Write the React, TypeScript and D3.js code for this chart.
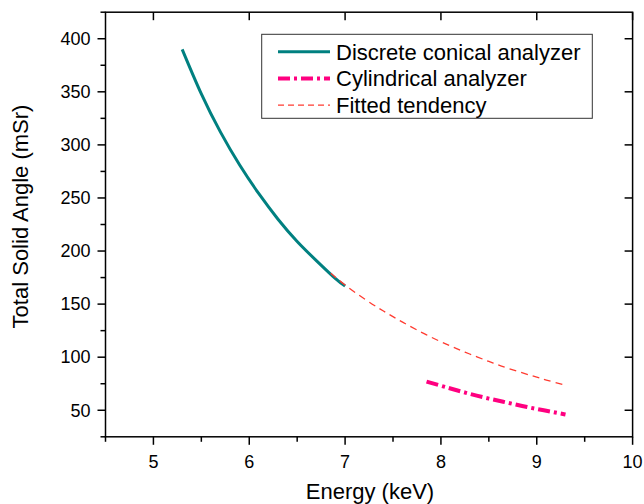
import React from "react";
import * as d3 from "d3";

const conicalEnergy = [5.3, 5.5, 5.7, 5.9, 6.1, 6.3, 6.5, 6.7, 6.9, 7.0];
const conicalAngle = [390, 348, 312, 281, 254, 230, 209, 191, 174, 167];

const cylEnergy = [7.85, 8.1, 8.3, 8.5, 8.7, 8.9, 9.1, 9.3];
const cylAngle = [77, 70.5, 65.5, 61, 57, 53, 49.5, 46];

const fitEnergy = [6.85, 7.0, 7.2, 7.4, 7.6, 7.85, 8.1, 8.3, 8.5, 8.7, 8.95, 9.1, 9.3];
const fitAngle = [179, 168, 155, 143.5, 133, 121, 110.5, 103, 96, 89.5, 82.5, 78.5, 73.5];

const xTicks = [5, 6, 7, 8, 9, 10];
const xMinorTicks = [4.5, 5.5, 6.5, 7.5, 8.5, 9.5];
const yTicks = [50, 100, 150, 200, 250, 300, 350, 400];
const yMinorTicks = [25, 75, 125, 175, 225, 275, 325, 375, 425];

const seriesNames = ["Discrete conical analyzer", "Cylindrical analyzer", "Fitted tendency"];

const W = 644;
const H = 504;
const FONT = "'Liberation Sans', Arial, sans-serif";

const TEAL = "#008080";
const PINK = "#ff0080";
const RED = "#ff3b30";

export default function App() {
  const x = d3.scaleLinear().domain([4.5, 10]).range([105.5, 632.6]);
  const y = d3.scaleLinear().domain([25, 425]).range([436.8, 12.2]);
  const line = d3
    .line<[number, number]>()
    .x((d) => x(d[0]))
    .y((d) => y(d[1]))
    .curve(d3.curveNatural);

  const zip = (a: number[], b: number[]) => a.map((v, i) => [v, b[i]] as [number, number]);

  const [x0, x1] = x.range();
  const [y0, y1] = y.range(); // y0 bottom, y1 top

  const legendItems = [
    { name: seriesNames[0], color: TEAL, width: 3, dash: undefined as string | undefined },
    { name: seriesNames[1], color: PINK, width: 4, dash: "12,4,3,4" },
    { name: seriesNames[2], color: RED, width: 1.3, dash: "6,4" },
  ];

  return (
    <svg
      width={W}
      height={H}
      style={{ position: "absolute", left: 0, top: 0, background: "#fff" }}
      fontFamily={FONT}
    >
      <rect x={0} y={0} width={W} height={H} fill="#fff" />
      {/* data */}
      <path d={line(zip(conicalEnergy, conicalAngle)) || ""} fill="none" stroke={TEAL} strokeWidth={3} />
      <path
        d={line(zip(fitEnergy, fitAngle)) || ""}
        fill="none"
        stroke={RED}
        strokeWidth={1.3}
        strokeDasharray="7,5"
      />
      <path
        d={line(zip(cylEnergy, cylAngle)) || ""}
        fill="none"
        stroke={PINK}
        strokeWidth={4}
        strokeDasharray="12,4,3,4"
      />

      {/* frame */}
      <rect x={x0} y={y1} width={x1 - x0} height={y0 - y1} fill="none" stroke="#000" strokeWidth={1.5} />

      {/* bottom ticks (outward) and top ticks (inward) */}
      {xTicks.map((t) => (
        <g key={"xt" + t}>
          <line x1={x(t)} x2={x(t)} y1={y0} y2={y0 + 8} stroke="#000" strokeWidth={1.5} />
          <line x1={x(t)} x2={x(t)} y1={y1} y2={y1 + 8} stroke="#000" strokeWidth={1.5} />
          <text x={x(t)} y={y0 + 31} textAnchor="middle" fontSize={18} fill="#000">
            {t}
          </text>
        </g>
      ))}
      {xMinorTicks.map((t) => (
        <line key={"xm" + t} x1={x(t)} x2={x(t)} y1={y0} y2={y0 + 5} stroke="#000" strokeWidth={1.5} />
      ))}

      {/* left ticks (outward) and right ticks (inward) */}
      {yTicks.map((t) => (
        <g key={"yt" + t}>
          <line x1={x0 - 8} x2={x0} y1={y(t)} y2={y(t)} stroke="#000" strokeWidth={1.5} />
          <line x1={x1 - 8} x2={x1} y1={y(t)} y2={y(t)} stroke="#000" strokeWidth={1.5} />
          <text x={x0 - 15} y={y(t)} dy="0.35em" textAnchor="end" fontSize={18} fill="#000">
            {t}
          </text>
        </g>
      ))}
      {yMinorTicks.map((t) => (
        <line key={"ym" + t} x1={x0 - 5} x2={x0} y1={y(t)} y2={y(t)} stroke="#000" strokeWidth={1.5} />
      ))}

      {/* axis titles */}
      <text x={370} y={499} textAnchor="middle" fontSize={22} fill="#000">
        Energy (keV)
      </text>
      <text
        transform={`translate(28,216.5) rotate(-90)`}
        textAnchor="middle"
        fontSize={22}
        fill="#000"
      >
        Total Solid Angle (mSr)
      </text>

      {/* legend */}
      <rect x={261.7} y={34.3} width={330.6} height={84} fill="#fff" stroke="#333" strokeWidth={1} />
      {legendItems.map((it, i) => {
        const ly = 51.7 + i * 26.7;
        return (
          <g key={it.name}>
            <line
              x1={278}
              x2={330}
              y1={ly}
              y2={ly}
              stroke={it.color}
              strokeWidth={it.width}
              strokeDasharray={it.dash}
            />
            <text x={336} y={ly} dy="0.36em" fontSize={22} fill="#000">
              {it.name}
            </text>
          </g>
        );
      })}
    </svg>
  );
}
